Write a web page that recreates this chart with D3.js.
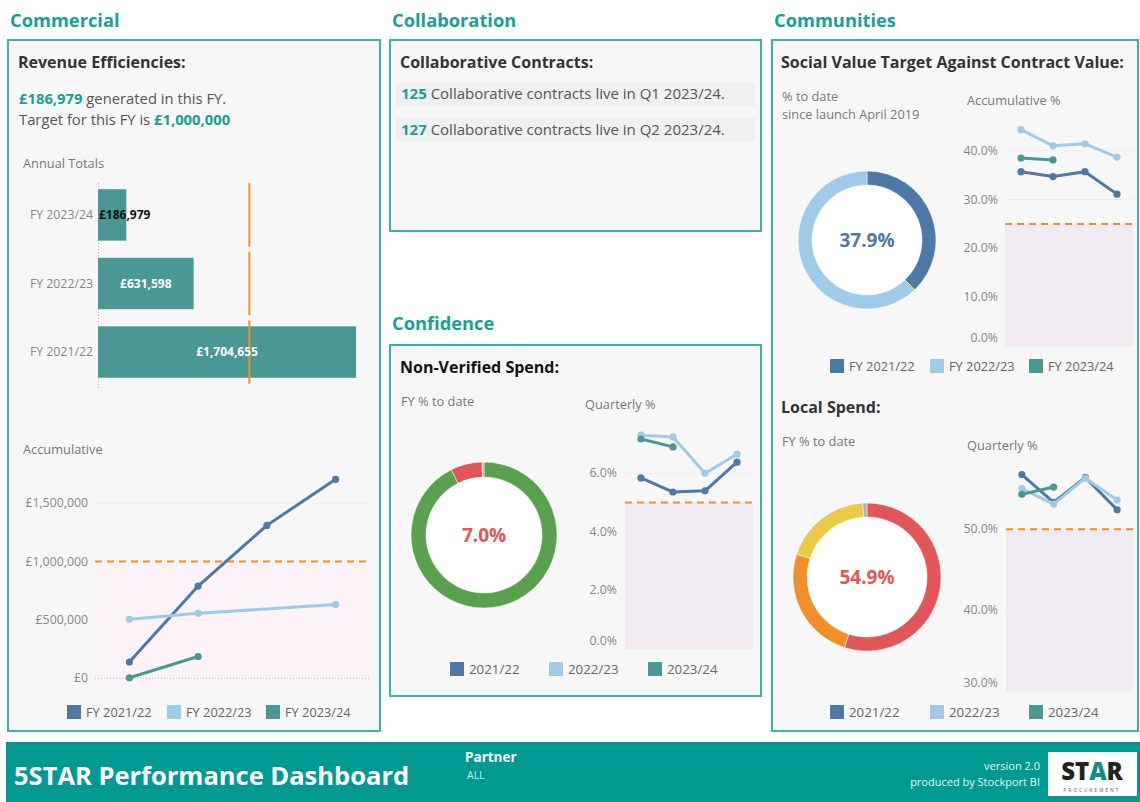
<!DOCTYPE html>
<html>
<head>
<meta charset="utf-8">
<script src="https://cdn.jsdelivr.net/npm/d3@7"></script>
<style>
  body { margin: 0; background: #fff; }
  svg { display: block; font-family: "Open Sans", "Noto Sans", sans-serif; }
</style>
</head>
<body>
<div id="chart"></div>
<script>
// Revenue (Commercial)
const annualYears = ["FY 2023/24", "FY 2022/23", "FY 2021/22"];
const annualTotals = [186979, 631598, 1704655];
const revenueTarget = 1000000;
const quarters = ["Q1", "Q2", "Q3", "Q4"];
const fyNames = ["FY 2021/22", "FY 2022/23", "FY 2023/24"];
const yearNames = ["2021/22", "2022/23", "2023/24"];
const accum2122 = [140000, 790000, 1310000, 1704655];
const accum2223 = [505000, 557000, null, 631598];
const accum2324 = [5000, 186979];
const accumTicks = [0, 500000, 1000000, 1500000];

// Collaboration
const contractCounts = [125, 127];
const contractQuarters = ["Q1 2023/24", "Q2 2023/24"];

// Confidence: non-verified spend
const nvsDonut = [92.6, 7.0, 0.4];
const nvsColors = ["#59a14f", "#e15759", "#bab0ac"];
const nvs2122 = [5.84, 5.36, 5.40, 6.38];
const nvs2223 = [7.30, 7.24, 6.00, 6.65];
const nvs2324 = [7.17, 6.90];
const nvsTarget = 5;
const nvsTicks = [0, 2, 4, 6];

// Communities: social value
const svDonut = [37.9, 62.1];
const svColors = ["#4e79a7", "#a0cbe8"];
const sv2122 = [35.7, 34.7, 35.7, 31.1];
const sv2223 = [44.3, 41.0, 41.4, 38.7];
const sv2324 = [38.5, 38.1];
const svTarget = 25;
const svTicks = [0, 10, 20, 30, 40];

// Communities: local spend
const lsDonut = [54.9, 25.1, 19.1, 0.9];
const lsColors = ["#e15759", "#f28e2b", "#edc948", "#bab0ac"];
const ls2122 = [56.75, 53.3, 56.4, 52.4];
const ls2223 = [55.0, 53.1, 56.3, 53.6];
const ls2324 = [54.3, 55.2];
const lsTarget = 50;
const lsTicks = [30, 40, 50];

const seriesColors = ["#4e79a7", "#a0cbe8", "#499894"];
const teal = "#1a9e96";
const border = "#3fb0a7";
const orange = "#f28e2b";

const svg = d3.select("#chart").append("svg")
    .attr("width", 1140)
    .attr("height", 802);

svg.append("rect").attr("width", 1140).attr("height", 802).attr("fill", "#fff");

function text(g, x, y, s, size, fill, weight, anchor) {
  return g.append("text")
      .attr("x", x).attr("y", y)
      .attr("font-size", size)
      .attr("fill", fill || "#555")
      .attr("font-weight", weight || "normal")
      .attr("text-anchor", anchor || "start")
      .text(s);
}

function panel(x, y, w, h, title, ty) {
  text(svg, x + 2, ty, title, 18.3, teal, "bold");
  svg.append("rect")
      .attr("x", x).attr("y", y).attr("width", w).attr("height", h)
      .attr("fill", "#f7f7f7")
      .attr("stroke", border).attr("stroke-width", 2);
}

panel(8, 40, 372, 691, "Commercial", 27);
panel(390, 40, 371, 191, "Collaboration", 27);
panel(390, 345, 371, 351, "Confidence", 330);
panel(772, 40, 366, 691, "Communities", 27);

// ---------- Commercial ----------
text(svg, 18, 68, "Revenue Efficiencies:", 16, "#333", "bold");
const l1 = text(svg, 19, 104, "", 14.8, "#555");
l1.append("tspan").attr("fill", teal).attr("font-weight", "bold").text("£" + d3.format(",")(annualTotals[0]));
l1.append("tspan").text(" generated in this FY.");
const l2 = text(svg, 19, 125, "", 14.8, "#555");
l2.append("tspan").text("Target for this FY is ");
l2.append("tspan").attr("fill", teal).attr("font-weight", "bold").text("£" + d3.format(",")(revenueTarget));

text(svg, 23, 168, "Annual Totals", 12.8, "#777");

const bx = d3.scaleLinear([0, 1800000], [98, 370.5]);
const by = d3.scaleBand(annualYears, [181, 386]).paddingInner(0.25).paddingOuter(0.12);

svg.append("line")
    .attr("x1", 98.5).attr("x2", 98.5).attr("y1", 183).attr("y2", 388)
    .attr("stroke", "#bbb").attr("stroke-dasharray", "1,2");

svg.append("g").selectAll("rect")
  .data(annualYears)
  .join("rect")
    .attr("x", bx(0))
    .attr("y", d => by(d))
    .attr("width", (d, i) => bx(annualTotals[i]) - bx(0))
    .attr("height", by.bandwidth())
    .attr("fill", "#499894");

svg.append("g").selectAll("line")
  .data(annualYears)
  .join("line")
    .attr("x1", bx(revenueTarget)).attr("x2", bx(revenueTarget))
    .attr("y1", d => by(d) - 6).attr("y2", d => by(d) + by.bandwidth() + 6)
    .attr("stroke", orange).attr("stroke-width", 2);

annualYears.forEach((d, i) => {
  const cy = by(d) + by.bandwidth() / 2 + 4;
  text(svg, 93, cy, d, 12.3, "#888", "normal", "end");
  const w = bx(annualTotals[i]) - bx(0);
  const label = "£" + d3.format(",")(annualTotals[i]);
  if (w < 70) text(svg, 99, cy, label, 12, "#111", "bold");
  else text(svg, bx(0) + w / 2, cy, label, 12, "#fff", "bold", "middle");
});

text(svg, 23, 454, "Accumulative", 12.8, "#777");

function lineChart(cfg) {
  const g = svg.append("g");
  const x = d3.scalePoint(quarters, [cfg.x0, cfg.x1]).padding(0.5);
  const y = d3.scaleLinear(cfg.domain, [cfg.y1, cfg.y0]);

  g.append("rect")
      .attr("x", cfg.x0).attr("width", cfg.x1 - cfg.x0)
      .attr("y", y(cfg.target)).attr("height", y(cfg.domain[0]) - y(cfg.target))
      .attr("fill", cfg.shade);

  cfg.ticks.forEach(t => {
    g.append("line")
        .attr("x1", cfg.x0).attr("x2", cfg.x1)
        .attr("y1", y(t)).attr("y2", y(t))
        .attr("stroke", t === 0 && cfg.zeroLine ? "#bbb" : "#eeeeee")
        .attr("stroke-dasharray", t === 0 && cfg.zeroLine ? "1,2" : null);
    const ly = Math.min(y(t), cfg.y1 - 8) + 4;
    text(g, cfg.labelX, ly, cfg.format(t), 12.3, "#888", "normal", "end");
  });

  g.append("line")
      .attr("x1", cfg.x0).attr("x2", cfg.x1)
      .attr("y1", y(cfg.target)).attr("y2", y(cfg.target))
      .attr("stroke", orange).attr("stroke-width", 2)
      .attr("stroke-dasharray", "7,5");

  const line = d3.line().x(d => x(d.q)).y(d => y(d.v));
  cfg.series.forEach((vals, k) => {
    const pts = vals.map((v, i) => ({q: quarters[i], v})).filter(d => d.v != null);
    g.append("path")
        .attr("d", line(pts))
        .attr("fill", "none")
        .attr("stroke", seriesColors[k])
        .attr("stroke-width", 3)
        .attr("stroke-linejoin", "round");
    g.selectAll(null)
      .data(pts)
      .join("circle")
        .attr("cx", d => x(d.q)).attr("cy", d => y(d.v))
        .attr("r", 3.6)
        .attr("fill", seriesColors[k]);
  });
}

lineChart({
  x0: 95, x1: 370, y0: 467, y1: 690,
  domain: [-100000, 1810000],
  ticks: accumTicks, target: revenueTarget, shade: "#fbf3f7", zeroLine: true,
  labelX: 88, format: v => "£" + d3.format(",")(v),
  series: [accum2122, accum2223, accum2324]
});

function legend(items, xs, y, size) {
  items.forEach((s, i) => {
    svg.append("rect")
        .attr("x", xs[i]).attr("y", y - 7).attr("width", 14).attr("height", 14)
        .attr("fill", seriesColors[i]);
    text(svg, xs[i] + 19, y + 4.5, s, size, "#666");
  });
}
legend(fyNames, [67, 167, 266], 712, 12.8);

// ---------- Collaboration ----------
text(svg, 400, 68, "Collaborative Contracts:", 16, "#333", "bold");
contractCounts.forEach((c, i) => {
  const cy = 94 + i * 36;
  svg.append("rect")
      .attr("x", 396).attr("y", cy - 12).attr("width", 359).attr("height", 24)
      .attr("fill", "#f0f0f0");
  const t = text(svg, 401, cy + 5, "", 15, "#555");
  t.append("tspan").attr("fill", teal).attr("font-weight", "bold").text(c);
  t.append("tspan").text(" Collaborative contracts live in " + contractQuarters[i] + ".");
});

// ---------- Donut helper ----------
function donut(cx, cy, rOuter, rInner, values, colors, label, labelColor) {
  const g = svg.append("g").attr("transform", `translate(${cx},${cy})`);
  const pie = d3.pie().sort(null)(values);
  const arc = d3.arc().innerRadius(rInner).outerRadius(rOuter);
  g.append("circle").attr("r", rInner).attr("fill", "#fff");
  g.selectAll("path")
    .data(pie)
    .join("path")
      .attr("d", arc)
      .attr("fill", (d, i) => colors[i])
      .attr("stroke", "#fff").attr("stroke-width", 0.5);
  text(g, 0, 7, label, 19, labelColor, "bold", "middle");
}

// ---------- Confidence ----------
text(svg, 400, 373, "Non-Verified Spend:", 16, "#111", "bold");
text(svg, 401, 406, "FY % to date", 12.8, "#777");
text(svg, 585, 409, "Quarterly %", 12.8, "#777");
donut(484, 535, 73, 58, nvsDonut, nvsColors, d3.format(".1f")(nvsDonut[1]) + "%", "#e15759");
lineChart({
  x0: 625, x1: 753, y0: 422, y1: 649,
  domain: [0, 7.75],
  ticks: nvsTicks, target: nvsTarget, shade: "#f1eaf1",
  labelX: 617, format: v => d3.format(".1f")(v) + "%",
  series: [nvs2122, nvs2223, nvs2324]
});
legend(yearNames, [450, 549, 648], 669, 13.3);

// ---------- Communities ----------
text(svg, 781, 68, "Social Value Target Against Contract Value:", 16, "#333", "bold");
text(svg, 782, 101, "% to date", 12.8, "#777");
text(svg, 782, 119, "since launch April 2019", 12.8, "#777");
text(svg, 967, 105, "Accumulative %", 12.8, "#777");
donut(867, 240, 69, 55, svDonut, svColors, d3.format(".1f")(svDonut[0]) + "%", "#4e79a7");
lineChart({
  x0: 1005, x1: 1133, y0: 117, y1: 346,
  domain: [0, 46.9],
  ticks: svTicks, target: svTarget, shade: "#f1eaf1",
  labelX: 998, format: v => d3.format(".1f")(v) + "%",
  series: [sv2122, sv2223, sv2324]
});
legend(fyNames, [830, 930, 1029], 366, 12.8);

text(svg, 781, 413, "Local Spend:", 16, "#333", "bold");
text(svg, 782, 446, "FY % to date", 12.8, "#777");
text(svg, 967, 450, "Quarterly %", 12.8, "#777");
donut(867, 577, 74, 60, lsDonut, lsColors, d3.format(".1f")(lsDonut[0]) + "%", "#e15759");
lineChart({
  x0: 1006, x1: 1133, y0: 462, y1: 691,
  domain: [30, 58.3],
  ticks: lsTicks, target: lsTarget, shade: "#f1eaf1",
  labelX: 998, format: v => d3.format(".1f")(v) + "%",
  series: [ls2122, ls2223, ls2324]
});
legend(yearNames, [830, 930, 1029], 712, 13.3);

// ---------- Footer ----------
svg.append("rect").attr("x", 6).attr("y", 742).attr("width", 1134).attr("height", 60).attr("fill", "#009a93");
text(svg, 14, 785, "5STAR Performance Dashboard", 25.5, "#fff", "bold");
text(svg, 465, 762, "Partner", 13.5, "#fff", "bold");
text(svg, 467, 779, "ALL", 10.5, "#cdeeea");
text(svg, 1040, 770, "version 2.0", 11, "#e6f6f4", "normal", "end");
text(svg, 1040, 786, "produced by Stockport BI", 11, "#e6f6f4", "normal", "end");

svg.append("rect").attr("x", 1048).attr("y", 752).attr("width", 89).attr("height", 44).attr("fill", "#fff");
const logo = text(svg, 1092, 780, "", 24, "#222", "800", "middle");
logo.append("tspan").text("ST");
logo.append("tspan").attr("fill", "#0e8f86").text("A");
logo.append("tspan").text("R");
text(svg, 1092, 792, "PROCUREMENT", 4.5, "#555", "normal", "middle").attr("letter-spacing", 2.2);
</script>
</body>
</html>
